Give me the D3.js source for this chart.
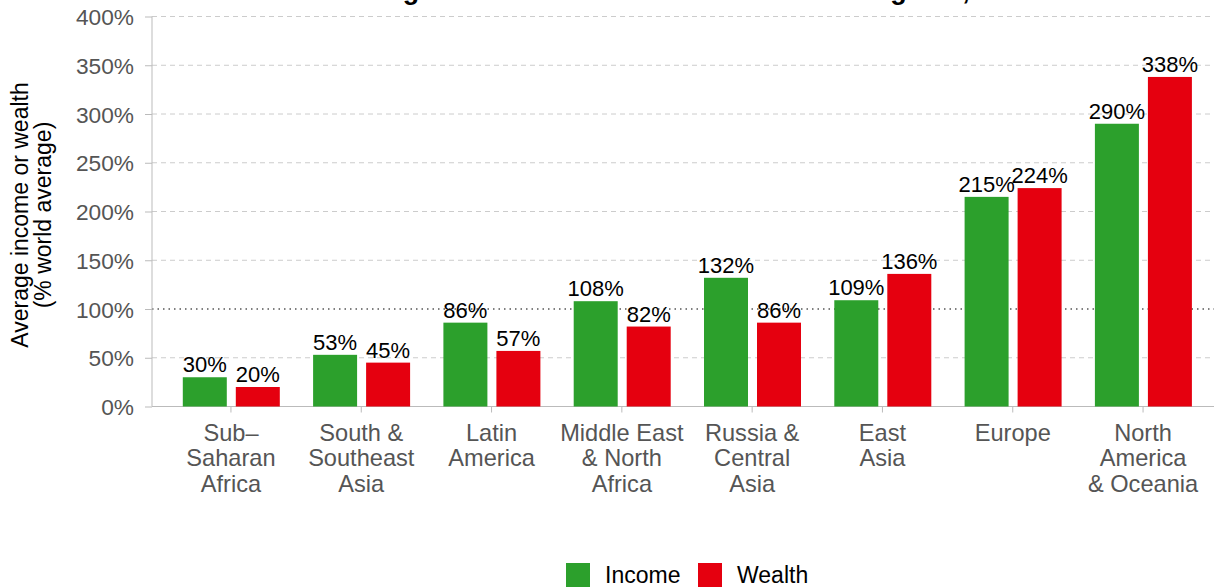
<!DOCTYPE html>
<html>
<head>
<meta charset="utf-8">
<script src="https://cdn.jsdelivr.net/npm/d3@7"></script>
<style>
  body { margin: 0; background: #fff; }
  text { font-family: "Liberation Sans", Arial, sans-serif; }
</style>
</head>
<body>
<div id="chart"></div>
<script>
// data
const regions = [
  ['Sub\u2013', 'Saharan', 'Africa'],
  ['South &', 'Southeast', 'Asia'],
  ['Latin', 'America'],
  ['Middle East', '& North', 'Africa'],
  ['Russia &', 'Central', 'Asia'],
  ['East', 'Asia'],
  ['Europe'],
  ['North', 'America', '& Oceania']
];
const income = [30, 53, 86, 108, 132, 109, 215, 290];
const wealth = [20, 45, 57, 82, 86, 136, 224, 338];
const seriesNames = ['Income', 'Wealth'];
const colors = ['#2ca02c', '#e5000f'];
const yTicks = [0, 50, 100, 150, 200, 250, 300, 350, 400];
const title = 'Average income and wealth across world regions, 2021';

const width = 1214, height = 587;
const svg = d3.select('#chart').append('svg').attr('width', width).attr('height', height);

const keys = regions.map((d, i) => i);
const x = d3.scaleBand().domain(keys).range([165.8, 1208.2]).padding(0);
const xi = d3.scaleBand().domain(seriesNames).range([17, 114]).paddingInner(0.17);
const y = d3.scaleLinear().domain([0, 400]).range([406.5, 16.5]);

// title (sits mostly above the page edge, as in the source)
svg.append('text').attr('x', 683).attr('y', -1.5)
   .attr('text-anchor', 'middle').attr('font-size', 27).attr('font-weight', 'bold')
   .attr('fill', '#000').text(title);

// grid
svg.append('g').selectAll('line').data(yTicks.filter(d => d > 0))
  .join('line')
  .attr('x1', 152).attr('x2', width)
  .attr('y1', d => y(d)).attr('y2', d => y(d))
  .attr('stroke', d => d === 100 ? '#555' : '#ccc')
  .attr('stroke-width', d => d === 100 ? 1.3 : 1)
  .attr('stroke-dasharray', d => d === 100 ? '1.5,4' : '5,4');

// y axis
const yAxis = svg.append('g').attr('transform', 'translate(152,0)')
  .call(d3.axisLeft(y).tickValues(yTicks).tickFormat(d => d + '%').tickSize(7).tickPadding(11));
yAxis.select('.domain').attr('stroke', '#bbb').attr('d', `M0,${y(400)}V${y(0)}`);
yAxis.selectAll('.tick line').attr('stroke', '#bbb');
yAxis.selectAll('.tick text').attr('font-size', 22.7).attr('fill', '#555')
  .attr('font-family', '"Liberation Sans", Arial, sans-serif').attr('dy', '0.36em');

// x axis
const xAxis = svg.append('g').attr('transform', `translate(0,${y(0)})`)
  .call(d3.axisBottom(x).tickSize(6).tickFormat(''));
xAxis.select('.domain').attr('stroke', '#bbb').attr('d', `M152,0H${width}`);
xAxis.selectAll('.tick line').attr('stroke', '#bbb');

xAxis.selectAll('.tick').append('text')
  .attr('text-anchor', 'middle').attr('font-size', 23.6).attr('fill', '#555')
  .attr('font-family', '"Liberation Sans", Arial, sans-serif')
  .selectAll('tspan').data(d => regions[d])
  .join('tspan').attr('x', 0).attr('y', (d, i) => 34 + i * 25.5).text(d => d);

// bars
const rows = keys.map(i => ({ i, vals: [income[i], wealth[i]] }));
const groups = svg.append('g').selectAll('g').data(rows).join('g')
  .attr('transform', d => `translate(${x(d.i)},0)`);

groups.selectAll('rect').data(d => d.vals.map((v, k) => ({ k, v })))
  .join('rect')
  .attr('x', d => xi(seriesNames[d.k]))
  .attr('width', xi.bandwidth())
  .attr('y', d => y(d.v))
  .attr('height', d => y(0) - y(d.v))
  .attr('fill', d => colors[d.k]);

groups.selectAll('text.val').data(d => d.vals.map((v, k) => ({ k, v })))
  .join('text').attr('class', 'val')
  .attr('x', d => xi(seriesNames[d.k]) + xi.bandwidth() / 2)
  .attr('y', d => y(d.v) - 5)
  .attr('text-anchor', 'middle').attr('font-size', 22).attr('fill', '#000')
  .text(d => d.v + '%');

// y title
const yt = svg.append('text').attr('transform', 'translate(0,215) rotate(-90)')
  .attr('text-anchor', 'middle').attr('font-size', 23).attr('fill', '#000');
yt.append('tspan').attr('x', 0).attr('y', 28).text('Average income or wealth');
yt.append('tspan').attr('x', 0).attr('y', 51).text('(% world average)');

// legend
const legend = svg.append('g');
const legX = [566, 698];
seriesNames.forEach((s, k) => {
  legend.append('rect').attr('x', legX[k]).attr('y', 563).attr('width', 24).attr('height', 24)
    .attr('fill', colors[k]);
  legend.append('text').attr('x', legX[k] + 39).attr('y', 583)
    .attr('font-size', 23).attr('fill', '#000').text(s);
});
</script>
</body>
</html>
